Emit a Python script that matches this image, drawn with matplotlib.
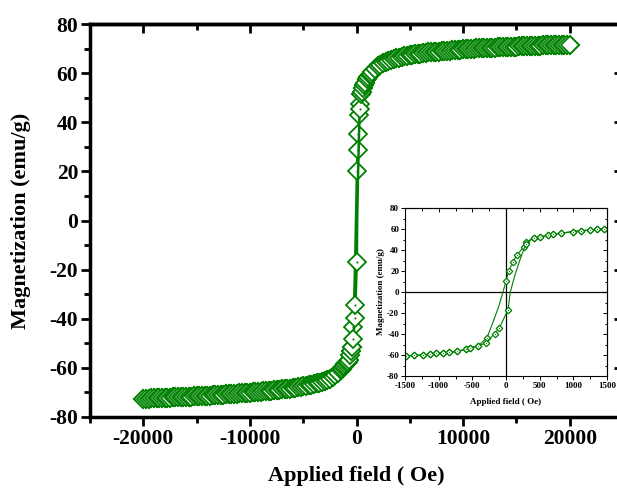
import matplotlib
matplotlib.use("Agg")
import matplotlib.pyplot as plt
import numpy as np
from matplotlib.ticker import MultipleLocator

plt.rcParams['font.family'] = 'Liberation Serif'
plt.rcParams['font.weight'] = 'bold'
plt.rcParams['axes.unicode_minus'] = False

# high field part, both branches run over it (H > 0)
pos_H = [410, 510, 620, 700, 810, 990, 1110, 1250, 1350, 1450,
         1750, 2000, 2250, 2500, 2750, 3000, 3250, 3500, 3750, 4000,
         4250, 4500, 4750, 5000, 5250, 5500, 5750, 6000, 6250, 6500,
         6750, 7000, 7250, 7500, 7750, 8000, 8250, 8500, 8750, 9000,
         9250, 9500, 9750, 10000, 10250, 10500, 10750, 11000, 11250, 11500,
         11750, 12000, 12250, 12500, 12750, 13000, 13250, 13500, 13750, 14000,
         14250, 14500, 14750, 15000, 15250, 15500, 15750, 16000, 16250, 16500,
         16750, 17000, 17250, 17500, 17750, 18000, 18250, 18500, 18750, 19000,
         19250, 19500, 19750, 20000]
pos_M = [51.7, 52.5, 54.0, 55.0, 56.0, 57.5, 58.3, 59.2, 59.8, 60.4,
         61.8, 62.8, 63.5, 64.1, 64.6, 65.0, 65.4, 65.7, 66.0, 66.3,
         66.6, 66.8, 67.0, 67.2, 67.4, 67.6, 67.8, 67.9, 68.1, 68.2,
         68.4, 68.5, 68.6, 68.7, 68.8, 68.9, 69.0, 69.1, 69.2, 69.3,
         69.4, 69.5, 69.6, 69.7, 69.75, 69.8, 69.9, 70.0, 70.05, 70.1,
         70.15, 70.2, 70.25, 70.3, 70.35, 70.4, 70.45, 70.5, 70.55, 70.6,
         70.65, 70.7, 70.75, 70.8, 70.85, 70.9, 70.95, 71.0, 71.05, 71.1,
         71.15, 71.2, 71.2, 71.25, 71.3, 71.3, 71.35, 71.4, 71.4, 71.45,
         71.5, 71.5, 71.55, 71.6]

# high field part (H < 0)
neg_H = [-420, -530, -600, -730, -840, -930, -1040, -1130, -1230, -1370, -1480,
         -1750, -2000, -2250, -2500, -2750, -3000, -3250, -3500, -3750, -4000,
         -4250, -4500, -4750, -5000, -5250, -5500, -5750, -6000, -6250, -6500,
         -6750, -7000, -7250, -7500, -7750, -8000, -8250, -8500, -8750, -9000,
         -9250, -9500, -9750, -10000, -10250, -10500, -10750, -11000, -11250, -11500,
         -11750, -12000, -12250, -12500, -12750, -13000, -13250, -13500, -13750, -14000,
         -14250, -14500, -14750, -15000, -15250, -15500, -15750, -16000, -16250, -16500,
         -16750, -17000, -17250, -17500, -17750, -18000, -18250, -18500, -18750, -19000,
         -19250, -19500, -19750, -20000]
neg_M = [-51.7, -53.0, -54.6, -56.6, -57.6, -57.9, -58.5, -59.2, -59.8, -60.4, -60.7,
         -62.0, -63.0, -63.8, -64.4, -64.9, -65.3, -65.7, -66.0, -66.3, -66.6,
         -66.9, -67.1, -67.3, -67.5, -67.7, -67.9, -68.1, -68.2, -68.4, -68.5,
         -68.7, -68.8, -68.9, -69.0, -69.2, -69.3, -69.4, -69.5, -69.6, -69.7,
         -69.8, -69.9, -70.0, -70.1, -70.2, -70.3, -70.35, -70.4, -70.5, -70.6,
         -70.65, -70.7, -70.8, -70.9, -70.95, -71.0, -71.1, -71.2, -71.25, -71.3,
         -71.35, -71.4, -71.45, -71.5, -71.6, -71.7, -71.75, -71.8, -71.85, -71.9,
         -71.95, -72.0, -72.05, -72.1, -72.15, -72.2, -72.25, -72.3, -72.35, -72.4,
         -72.45, -72.5, -72.55, -72.6]

# low field part of each branch; mark: 1 = marker, 2 = marker only in inset, 0 = line only
desc_low_H = [300, 262, 163, 104, 40, 0, -45, -109, -183, -243, -282]
desc_low_M = [47.5, 43.0, 35.2, 28.9, 20.0, 10.2, 0.0, -14.0, -27.0, -37.0, -43.5]
desc_low_mark = [1, 1, 1, 1, 1, 2, 0, 0, 0, 0, 1]

asc_low_H = [-297, -168, -99, 30, 64, 139, 213, 292]
asc_low_M = [-48.3, -39.7, -34.3, -16.8, 0.0, 17.5, 31.7, 45.4]
asc_low_mark = [1, 1, 1, 1, 0, 0, 0, 1]

desc_H = pos_H[::-1] + desc_low_H + neg_H
desc_M = pos_M[::-1] + desc_low_M + neg_M
desc_mark = [1] * len(pos_H) + desc_low_mark + [1] * len(neg_H)

asc_H = neg_H[::-1] + asc_low_H + pos_H
asc_M = neg_M[::-1] + asc_low_M + pos_M
asc_mark = [1] * len(neg_H) + asc_low_mark + [1] * len(pos_H)

branches = [(desc_H, desc_M, desc_mark), (asc_H, asc_M, asc_mark)]
green = '#008000'


def draw_loop(ax, ms, mew, lw, dot, shown, dot_range):
    for H, M, mark in branches:
        idx = [i for i, f in enumerate(mark) if f in shown]
        ax.plot(H, M, color=green, lw=lw, marker='D', ms=ms, mfc='white',
                mec=green, mew=mew, markevery=idx)
        d = [i for i in idx if abs(H[i]) < dot_range]
        ax.plot(np.array(H)[d], np.array(M)[d], ls='none', marker='o',
                ms=dot, color=green, mew=0)


def style_axes(ax, xmajor, xminor, ymajor, yminor, spine_w, tick_w, major_len,
               minor_len, labelsize, pad):
    ax.xaxis.set_major_locator(MultipleLocator(xmajor))
    ax.xaxis.set_minor_locator(MultipleLocator(xminor))
    ax.yaxis.set_major_locator(MultipleLocator(ymajor))
    ax.yaxis.set_minor_locator(MultipleLocator(yminor))
    for s in ax.spines.values():
        s.set_linewidth(spine_w)
    ax.tick_params(which='both', direction='out', top=False, right=False,
                   width=tick_w, labelsize=labelsize, pad=pad)
    ax.tick_params(which='major', length=major_len)
    ax.tick_params(which='minor', length=minor_len)
    # mirrored ticks pointing inwards on top and right
    top = ax.secondary_xaxis('top')
    top.xaxis.set_major_locator(MultipleLocator(xmajor))
    top.xaxis.set_minor_locator(MultipleLocator(xminor))
    top.tick_params(which='both', direction='in', width=tick_w,
                    labeltop=False, labelbottom=False)
    top.tick_params(which='major', length=major_len)
    top.tick_params(which='minor', length=minor_len)
    top.spines['top'].set_linewidth(spine_w)
    right = ax.secondary_yaxis('right')
    right.yaxis.set_major_locator(MultipleLocator(ymajor))
    right.yaxis.set_minor_locator(MultipleLocator(yminor))
    right.tick_params(which='both', direction='in', width=tick_w,
                      labelright=False, labelleft=False)
    right.tick_params(which='major', length=major_len)
    right.tick_params(which='minor', length=minor_len)
    right.spines['right'].set_linewidth(spine_w)


fig = plt.figure(figsize=(6.17, 4.88), dpi=100)

# main plot
ax = fig.add_axes([90 / 617, 71 / 488, 533 / 617, 393 / 488])
draw_loop(ax, ms=8.8, mew=1.3, lw=1.8, dot=1.5, shown=(1,), dot_range=400)
ax.set_xlim(-25000, 25000)
ax.set_ylim(-80, 80)
style_axes(ax, 10000, 5000, 20, 10, 2.5, 2.0, 6.5, 4.3, 15.5, 2)
ax.set_xlabel('Applied field ( Oe)', fontsize=16, fontweight='bold')
ax.set_ylabel('Magnetization (emu/g)', fontsize=16, fontweight='bold')
ax.xaxis.set_label_coords(0.5, -0.125)
ax.yaxis.set_label_coords(-0.11, 0.5)

# inset
axi = fig.add_axes([405 / 617, 112 / 488, 202 / 617, 168 / 488])
axi.axhline(0, color='black', lw=0.9)
axi.axvline(0, color='black', lw=0.9)
draw_loop(axi, ms=3.3, mew=0.9, lw=0.8, dot=0.8, shown=(1, 2), dot_range=1600)
axi.set_xlim(-1500, 1500)
axi.set_ylim(-80, 80)
style_axes(axi, 500, 250, 20, 10, 0.8, 0.7, 3.2, 1.8, 6.5, 1)
axi.set_xlabel('Applied field ( Oe)', fontsize=6.5, fontweight='bold')
axi.set_ylabel('Magnetization (emu/g)', fontsize=6.5, fontweight='bold')
axi.xaxis.set_label_coords(0.5, -0.13)
axi.yaxis.set_label_coords(-0.10, 0.5)

fig.savefig('out.png', dpi=100)
